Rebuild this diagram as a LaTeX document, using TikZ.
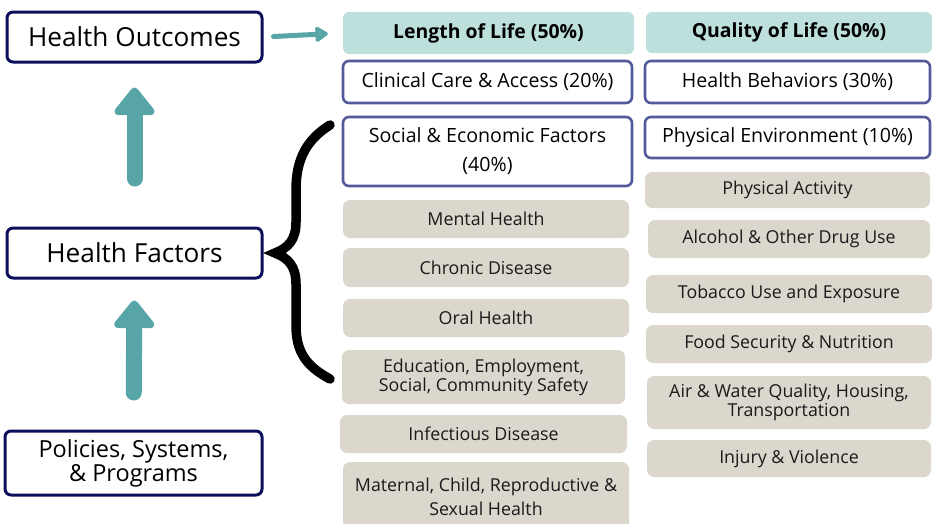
\documentclass[tikz,border=0pt]{standalone}
\usepackage{fontspec}
\setmainfont{Open Sans}
\usetikzlibrary{arrows.meta}
\definecolor{navy}{HTML}{0B0E58}
\definecolor{boxblue}{HTML}{525A9C}
\definecolor{teal}{HTML}{58A5A7}
\definecolor{headteal}{HTML}{BDE0DC}
\definecolor{itemgray}{HTML}{DBD7CD}
\definecolor{txt}{HTML}{1A1A1A}
\tikzset{
  mainbox/.style={draw=navy, line width=3pt, rounded corners=6pt, fill=white, inner sep=0pt, align=center, font=\fontsize{26.2}{24}\selectfont},
  catbox/.style={draw=boxblue, line width=2.6pt, rounded corners=6pt, fill=white, inner sep=0pt, align=center, font=\fontsize{19.6}{29}\selectfont},
  headbox/.style={fill=headteal, rounded corners=6pt, inner sep=0pt, align=center, font=\fontsize{19.4}{21}\selectfont\bfseries},
  itembox/.style={fill=itemgray, rounded corners=7pt, inner sep=0pt, align=center, text=txt, font=\fontsize{17.8}{19}\selectfont},
  bigarrow/.style={draw=teal, line width=16pt, line cap=round, -{Triangle[width=46pt,length=30pt,round]}},
  smallarrow/.style={draw=teal, line width=5pt, line cap=round, -{Triangle[width=17pt,length=14pt,round]}},
}
\begin{document}
\begin{tikzpicture}[x=1pt,y=-1pt]
\useasboundingbox (0,0) rectangle (932,523);
% left column
\node[mainbox, minimum width=255pt, minimum height=50pt] (outcomes) at (134.5,37) {Health Outcomes};
\node[mainbox, minimum width=255pt, minimum height=50pt] (factors) at (134.5,253) {Health Factors};
\node[mainbox, minimum width=257pt, minimum height=64pt, font=\fontsize{23.5}{24}\selectfont] (policies) at (133.5,463) {Policies, Systems,\\ \& Programs};
% column 1
\node[headbox, minimum width=291pt, minimum height=42pt] (length) at (488.5,33) {Length of Life (50\%)};
\node[catbox, minimum width=289pt, minimum height=42pt] (clinical) at (487.5,82) {Clinical Care \& Access (20\%)};
\node[catbox, minimum width=289pt, minimum height=69pt] (social) at (487.5,151.5) {Social \& Economic Factors\\(40\%)};
\node[itembox, minimum width=286pt, minimum height=38pt] (mental) at (486,219) {Mental Health};
\node[itembox, minimum width=286pt, minimum height=39pt] (chronic) at (486,267.5) {Chronic Disease};
\node[itembox, minimum width=286pt, minimum height=38pt] (oral) at (486,318) {Oral Health};
\node[itembox, minimum width=283pt, minimum height=54pt] (education) at (483.5,377) {Education, Employment,\\Social, Community Safety};
\node[itembox, minimum width=287pt, minimum height=38pt] (infectious) at (483.5,434) {Infectious Disease};
\node[itembox, minimum width=286pt, minimum height=70pt, font=\fontsize{17.8}{24}\selectfont] (maternal) at (486,497) {Maternal, Child, Reproductive \&\\Sexual Health};
% column 2
\node[headbox, minimum width=286pt, minimum height=41pt] (quality) at (789,32.5) {Quality of Life (50\%)};
\node[catbox, minimum width=285pt, minimum height=42pt] (behaviors) at (787.5,82) {Health Behaviors (30\%)};
\node[catbox, minimum width=285pt, minimum height=41pt] (environment) at (787.5,137.5) {Physical Environment (10\%)};
\node[itembox, minimum width=285pt, minimum height=36pt] (activity) at (787.5,190) {Physical Activity};
\node[itembox, minimum width=282pt, minimum height=38pt] (alcohol) at (789,239) {Alcohol \& Other Drug Use};
\node[itembox, minimum width=286pt, minimum height=38pt] (tobacco) at (789,294) {Tobacco Use and Exposure};
\node[itembox, minimum width=286pt, minimum height=38pt] (food) at (789,344) {Food Security \& Nutrition};
\node[itembox, minimum width=284pt, minimum height=53pt] (air) at (789,402.5) {Air \& Water Quality, Housing,\\Transportation};
\node[itembox, minimum width=284pt, minimum height=37pt] (injury) at (789,458.5) {Injury \& Violence};
% arrows
\draw[bigarrow, shorten <=48pt, shorten >=24pt] (factors.north) -- (outcomes.south);
\draw[bigarrow, shorten <=37pt, shorten >=21pt] (policies.north) -- (factors.south);
\draw[smallarrow, shorten <=10pt, shorten >=15pt] (outcomes.east) -- (length.west);
% brace
\coordinate (bt) at (330,125);
\coordinate (bm) at (275,253);
\coordinate (bb) at (330,379);
\draw[line width=9.5pt, line cap=round, line join=miter, miter limit=10]
  (bt) .. controls (306,140) and (296,160) .. (296,190) -- (296,222)
  .. controls (296,240) and (288,248) .. (bm)
  .. controls (288,258) and (296,266) .. (296,284) -- (296,325)
  .. controls (296,352) and (306,366) .. (bb);
\end{tikzpicture}
\end{document}
